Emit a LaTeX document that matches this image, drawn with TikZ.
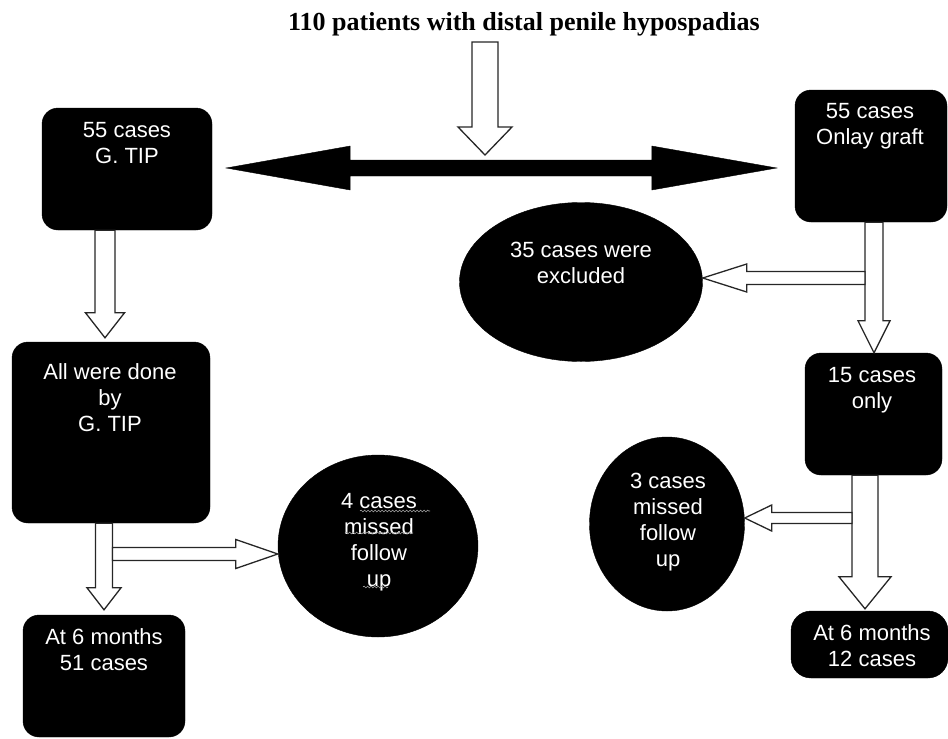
\documentclass[tikz,border=0pt]{standalone}
\usepackage{fontspec}
\setmainfont{Liberation Sans}
\newfontfamily\serifttl{Liberation Serif}
\usetikzlibrary{shapes.geometric,calc,decorations.pathmorphing}

\tikzset{
 boxnode/.style={draw=black, fill=black, rounded corners=16pt, inner sep=0pt},
 ovalnode/.style={ellipse, draw=black, fill=black, inner sep=0pt},
 labeltext/.style={text=white, align=center, inner sep=0pt, anchor=north, font=\fontsize{22}{26}\selectfont},
 hollow/.style={draw=black!85, fill=white, line width=1.3pt, line join=miter},
 solidarrow/.style={fill=black, draw=black},
 squiggle/.style={draw=gray!70, line width=0.6pt, decorate, decoration={snake, amplitude=0.9pt, segment length=3.5pt}},
}

\newcommand\hollowdown[5]{\draw[hollow] let \p1=(#1), \p2=(#2) in
  (\x1-#3,\y1) -- (\x1+#3,\y1) -- (\x1+#3,\y2+#5) -- (\x1+#4,\y2+#5) -- (\x1,\y2)
  -- (\x1-#4,\y2+#5) -- (\x1-#3,\y2+#5) -- cycle;}
\newcommand\hollowleft[5]{\draw[hollow] let \p1=(#1), \p2=(#2) in
  (\x1,\y1+#3) -- (\x2+#5,\y1+#3) -- (\x2+#5,\y1+#4) -- (\x2,\y1)
  -- (\x2+#5,\y1-#4) -- (\x2+#5,\y1-#3) -- (\x1,\y1-#3) -- cycle;}
\newcommand\hollowright[5]{\draw[hollow] let \p1=(#1), \p2=(#2) in
  (\x1,\y1+#3) -- (\x2-#5,\y1+#3) -- (\x2-#5,\y1+#4) -- (\x2,\y1)
  -- (\x2-#5,\y1-#4) -- (\x2-#5,\y1-#3) -- (\x1,\y1-#3) -- cycle;}

\begin{document}
\begin{tikzpicture}[x=1pt,y=-1pt]
\useasboundingbox (0,0) rectangle (948,739);

% title
\node[font=\serifttl\bfseries\fontsize{26}{30}\selectfont, anchor=base, inner sep=0pt] (title) at (524,30) {110 patients with distal penile hypospadias};

% boxes
\node[boxnode, minimum width=170pt, minimum height=122pt] (b1) at (127,169) {};
\node[labeltext] (b1t) at (127,122) {55 cases\\G. TIP};

\node[boxnode, minimum width=152pt, minimum height=132pt] (b2) at (871,156) {};
\node[labeltext] (b2t) at (870,103) {55 cases\\Onlay graft};

\node[boxnode, minimum width=198pt, minimum height=181pt] (b3) at (111,432.5) {};
\node[labeltext] (b3t) at (110,363) {All were done\\by\\G. TIP};

\node[boxnode, minimum width=162pt, minimum height=122pt] (b4) at (104,676) {};
\node[labeltext] (b4t) at (104,628) {At 6 months\\51 cases};

\node[boxnode, minimum width=137pt, minimum height=122pt] (b5) at (873.5,414) {};
\node[labeltext] (b5t) at (872,367) {15 cases\\only};

\node[boxnode, minimum width=157pt, minimum height=67pt, rounded corners=20pt] (b6) at (869.5,644.5) {};
\node[labeltext] (b6t) at (872,624) {At 6 months\\12 cases};

% ellipses
\node[ovalnode, minimum width=243pt, minimum height=159pt] (e1) at (581,282) {};
\node[labeltext] (e1t) at (581,242) {35 cases were\\excluded};

\node[ovalnode, minimum width=200pt, minimum height=182pt] (e2) at (378,546) {};
\node[labeltext] (e2t) at (379,493) {4 cases\\missed\\follow\\up};

\node[ovalnode, minimum width=155pt, minimum height=174pt] (e3) at (667,524) {};
\node[labeltext] (e3t) at (668,473) {3 cases\\missed\\follow\\up};

% spell-check squiggles
\draw[squiggle] (360,511) -- (430,511);
\draw[squiggle] (345,533) -- (413,533);
\draw[squiggle] (363,587) -- (388,587);

% double black arrow
\coordinate (dl) at ($(b1.east)+(14,-1)$);
\coordinate (dr) at ($(dl -| b2.west)+(-18,0)$);
\fill[solidarrow] let \p1=(dl), \p2=(dr) in
  (\x1,\y1) -- (\x1+124pt,\y1+22pt) -- (\x1+124pt,\y1+8pt) -- (\x2-125pt,\y1+8pt)
  -- (\x2-125pt,\y1+22pt) -- (\x2,\y1) -- (\x2-125pt,\y1-22pt) -- (\x2-125pt,\y1-8pt)
  -- (\x1+124pt,\y1-8pt) -- (\x1+124pt,\y1-22pt) -- cycle;

% top hollow arrow
\coordinate (a1s) at (485,42);
\coordinate (a1e) at (485,155);
\hollowdown{a1s}{a1e}{13pt}{27pt}{28pt}

% vertical hollow arrows
\hollowdown{[xshift=-22pt]b1.south}{[yshift=4pt]b3.north}{10pt}{19.5pt}{25pt}
\hollowdown{[xshift=3pt]b2.south}{b5.north}{9pt}{16pt}{32pt}
\hollowdown{[xshift=-7pt]b3.south}{[yshift=5pt]b4.north}{8.5pt}{17pt}{22pt}
\hollowdown{[xshift=-8.5pt]b5.south}{[yshift=2pt]b6.north}{13pt}{26pt}{32pt}

% side hollow arrows
\coordinate (s1) at (865,278);
\coordinate (s2) at (112.5,554);
\coordinate (s3) at (852,518);
\hollowleft{s1}{e1.east}{6.5pt}{14pt}{44pt}
\hollowright{s2}{e2.west}{6.5pt}{14.5pt}{42pt}
\hollowleft{s3}{e3.east}{5.5pt}{13pt}{27pt}
\end{tikzpicture}
\end{document}
